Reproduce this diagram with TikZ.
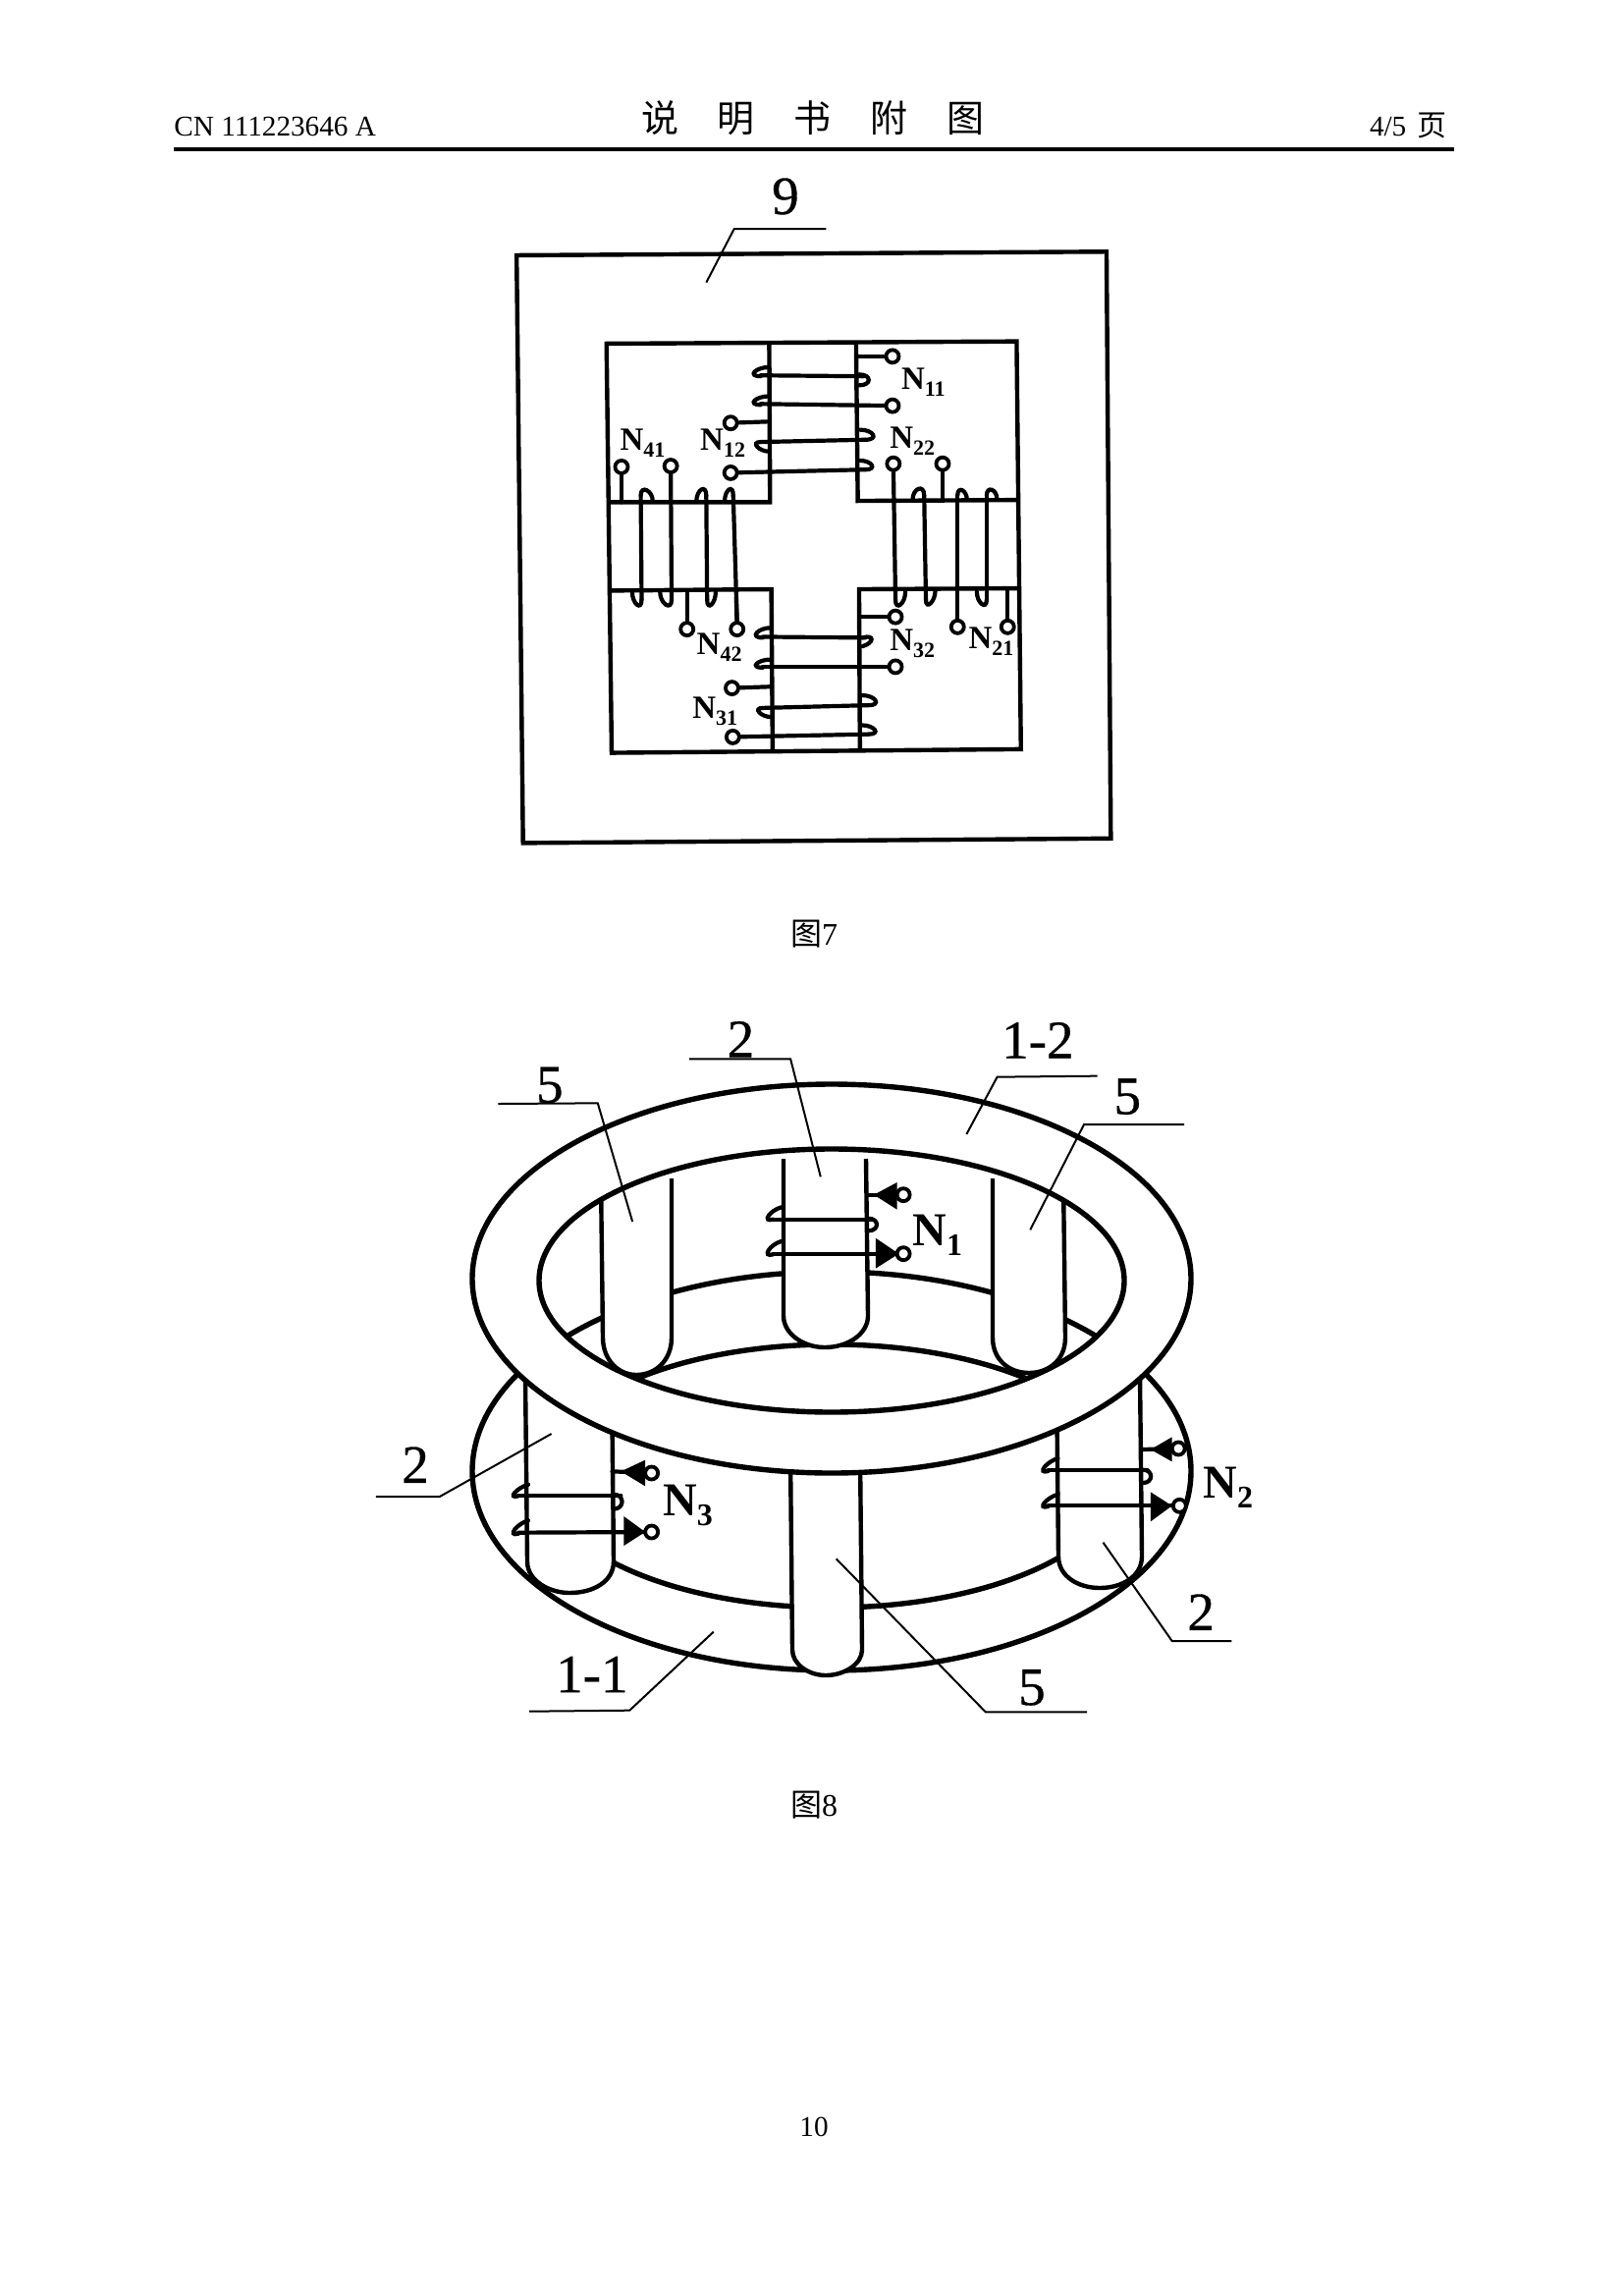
\documentclass[tikz,border=0pt]{standalone}
\usepackage{fontspec}
\usetikzlibrary{calc}
\setmainfont{Liberation Serif}
\newfontfamily\cjk{Noto Sans CJK SC}
\newfontfamily\semi[FakeBold=0.6]{Liberation Serif}
\tikzset{
  box/.style={line width=2.2pt,line join=miter},
  wire/.style={line width=2.1pt,line cap=round},
  lead/.style={line width=1pt},
  post/.style={line width=2.2pt,fill=white},
  ringline/.style={line width=2.7pt},
  term/.style={circle,draw,fill=white,line width=1.9pt,minimum size=6.5pt,inner sep=0pt},
  numlab/.style={font=\semi\fontsize{27.5pt}{27.5pt}\selectfont,inner sep=0pt},
  nsmall/.style={font=\fontsize{16.5pt}{16.5pt}\selectfont\bfseries,inner sep=0pt,anchor=base west},
  nbig/.style={font=\fontsize{24pt}{24pt}\selectfont\bfseries,inner sep=0pt,anchor=base west},
  head/.style={font=\fontsize{14.6pt}{15pt}\selectfont,inner sep=0pt},
  capt/.style={font=\fontsize{16pt}{16pt}\selectfont,inner sep=0pt},
}
\newcommand\hk[3]{\draw[wire] (#1) .. controls ($(#1)+(#3)$) and ($(#2)+(#3)$) .. (#2);}
\newcommand\subs[1]{\raisebox{-3.5pt}{\fontsize{11pt}{11pt}\selectfont #1}}
\newcommand\subb[1]{\raisebox{-5pt}{\fontsize{16pt}{16pt}\selectfont #1}}
\begin{document}
\begin{tikzpicture}[x=0.5pt,y=-0.5pt]
\fill[white] (0,0) rectangle (1653,2338);
\useasboundingbox (0,0) rectangle (1653,2338);
% header
\node[head,anchor=base west] (cn) at (177,139) {CN 111223646 A};
\node[head,anchor=base east] (pg) at (1474,139) {4/5\hspace{2pt} {\cjk\fontsize{15pt}{15pt}\selectfont 页}};
\node[inner sep=0pt,font=\cjk\fontsize{19pt}{19pt}\selectfont] (title) at (828,120) {说\hspace{20pt}明\hspace{20pt}书\hspace{20pt}附\hspace{20pt}图};
\draw[line width=1.6pt] (177,152) -- (1481,152);
\node[capt] (cap7) at (829,951) {{\cjk 图}7};
\node[capt] (cap8) at (829,1838) {{\cjk 图}8};
\node[head] (pno) at (829,2166) {10};

% ---------- figure 7
\begin{scope}[shift={(500,170)},x=0.218pt,y=-0.2307pt]
\draw[box] (60,195) -- (1438,187) -- (1448,1482) -- (75,1492) -- cycle;
\draw[box] (270,390) -- (1228,385) -- (1238,1285) -- (282,1293) -- cycle;
\draw[box] (650,390) -- (652,740) -- (275,740);
\draw[box] (853,388) -- (857,737) -- (1230,735);
\draw[box] (282,935) -- (655,932) -- (658,1290);
\draw[box] (1232,930) -- (860,932) -- (862,1285);
\node[numlab] (n9) at (688,65) {9};
\draw[lead] (503,255) -- (568,137) -- (783,137);
% top arm
\node[term] (a1) at (938,418) {};
\draw[wire] (853,418) -- (a1);
\draw[wire] (630,460) -- (870,462);
\hk{650,442}{630,462}{-32,0}
\hk{860,458}{860,482}{30,0}
\node[term] (a2) at (938,527) {};
\draw[wire] (630,523) -- (a2);
\hk{650,506}{630,525}{-32,0}
\node[term] (a3) at (560,565) {};
\draw[wire] (a3) -- (650,562);
\draw[wire] (630,607) -- (875,602);
\hk{630,607}{650,628}{-24,0}
\hk{862,580}{875,602}{32,0}
\node[term] (a4) at (560,675) {};
\draw[wire] (a4) -- (875,668);
\hk{862,648}{875,668}{28,0}
% left arm
\node[term] (b1) at (305,662) {};
\draw[wire] (b1) -- (305,740);
\draw[wire] (350,725) -- (352,955);
\hk{350,725}{378,738}{0,-24}
\hk{330,938}{352,955}{0,26}
\node[term] (b2) at (420,660) {};
\draw[wire] (b2) -- (422,955);
\hk{395,938}{422,955}{0,26}
\draw[wire] (503,725) -- (505,955);
\hk{480,738}{503,725}{0,-26}
\hk{505,955}{525,938}{0,26}
\draw[wire] (566,725) -- (575,1005);
\hk{546,738}{566,725}{0,-26}
\node[term] (b3) at (575,1020) {};
\draw[wire] (b3) -- (573,950);
\node[term] (b4) at (458,1020) {};
\draw[wire] (458,935) -- (b4);
% right arm
\node[term] (c1) at (940,655) {};
\draw[wire] (c1) -- (945,955);
\hk{945,955}{968,938}{0,26}
\draw[wire] (1012,725) -- (1016,955);
\hk{985,735}{1012,725}{0,-26}
\hk{1016,955}{1038,935}{0,24}
\node[term] (c2) at (1055,655) {};
\draw[wire] (c2) -- (1055,735);
\node[term] (c3) at (1090,1015) {};
\draw[wire] (1090,725) -- (c3);
\hk{1090,725}{1112,735}{0,-22}
\draw[wire] (1158,725) -- (1158,955);
\hk{1158,725}{1182,733}{0,-22}
\hk{1135,938}{1158,955}{0,24}
\node[term] (c4) at (1207,1015) {};
\draw[wire] (1207,932) -- (c4);
% bottom arm
\node[term] (d1) at (945,993) {};
\draw[wire] (862,993) -- (d1);
\draw[wire] (635,1037) -- (875,1039);
\hk{655,1017}{635,1039}{-32,0}
\hk{868,1039}{868,1058}{28,-8}
\node[term] (d2) at (945,1103) {};
\draw[wire] (635,1103) -- (d2);
\hk{655,1087}{635,1105}{-32,0}
\node[term] (d3) at (563,1150) {};
\draw[wire] (d3) -- (655,1147);
\draw[wire] (635,1194) -- (882,1188);
\hk{635,1194}{655,1214}{-24,0}
\hk{866,1166}{882,1188}{32,0}
\node[term] (d4) at (565,1258) {};
\draw[wire] (d4) -- (882,1252);
\hk{866,1232}{882,1252}{30,0}
% labels
\node[nsmall] (l11) at (958,490) {N\subs{11}};
\node[nsmall] (l41) at (301,625) {N\subs{41}};
\node[nsmall] (l12) at (488,625) {N\subs{12}};
\node[nsmall] (l22) at (931,620) {N\subs{22}};
\node[nsmall] (l42) at (480,1075) {N\subs{42}};
\node[nsmall] (l32) at (931,1067) {N\subs{32}};
\node[nsmall] (l21) at (1115,1063) {N\subs{21}};
\node[nsmall] (l31) at (470,1217) {N\subs{31}};
\end{scope}

% ---------- figure 8
% lower ring
\draw[ringline,fill=white] (847,1498) ellipse [x radius=366,y radius=203];
\draw[ringline] (847,1503) ellipse [x radius=295,y radius=134];
% posts seen through the hole
\draw[post] (612,1200) -- (614,1362) .. controls (614,1385) and (630,1400) .. (648,1400) .. controls (668,1400) and (684,1385) .. (684,1362) -- (684,1200);
\draw[post] (1011,1200) -- (1011,1362) .. controls (1011,1385) and (1028,1398) .. (1048,1398) .. controls (1068,1398) and (1085,1385) .. (1085,1362) -- (1083,1200);
\draw[post] (798,1180) -- (798,1340) .. controls (798,1358) and (818,1372) .. (840,1372) .. controls (864,1372) and (884,1358) .. (884,1340) -- (882,1180);
% front posts
\draw[post] (535,1400) -- (537,1590) .. controls (537,1610) and (560,1622) .. (580,1622) .. controls (605,1622) and (625,1610) .. (625,1590) -- (623,1400);
\draw[post] (1076,1400) -- (1078,1585) .. controls (1078,1605) and (1098,1617) .. (1120,1617) .. controls (1143,1617) and (1163,1605) .. (1163,1585) -- (1161,1400);
\draw[post] (805,1480) -- (807,1680) .. controls (807,1695) and (824,1706) .. (841,1706) .. controls (859,1706) and (878,1695) .. (878,1680) -- (876,1480);
% upper ring
\fill[white,even odd rule] (847,1302) ellipse [x radius=366,y radius=198] (847,1304) ellipse [x radius=298,y radius=134];
\draw[ringline] (847,1302) ellipse [x radius=366,y radius=198];
\draw[ringline] (847,1304) ellipse [x radius=298,y radius=134];

% upper zoom frame
\begin{scope}[shift={(370,1020)},x=0.2948pt,y=-0.16667pt]
\node[numlab] (m5a) at (322,255) {5};
\draw[lead] (233,312) -- (405,310) -- (465,672);
\node[numlab] (m2a) at (652,115) {2};
\draw[lead] (563,175) -- (738,175) -- (790,535);
\node[numlab] (m12) at (1165,118) {1-2};
\draw[lead] (1268,227) -- (1095,230) -- (1042,405);
\node[numlab] (m5b) at (1320,290) {5};
\draw[lead] (1418,375) -- (1245,375) -- (1152,697);
% N1 winding
\node[term] (e1) at (933,590) {};
\draw[wire] (870,590) -- (e1);
\fill (882,590) -- (922,552) -- (922,635) -- cycle;
\draw[wire] (708,665) -- (880,665);
\hk{722,628}{708,665}{-20,10}
\hk{872,662}{872,700}{20,0}
\node[term] (e2) at (933,770) {};
\draw[wire] (708,770) -- (e2);
\hk{722,732}{708,772}{-20,10}
\fill (925,770) -- (885,722) -- (885,815) -- cycle;
\node[nbig] (n1) at (948,745) {N\subb{1}};
\end{scope}

% lower zoom frame
\begin{scope}[shift={(370,1380)},x=0.2948pt,y=-0.16667pt]
\node[numlab] (m2b) at (90,335) {2};
\draw[lead] (22,432) -- (132,432) -- (325,240);
\node[numlab] (m11) at (395,975) {1-1};
\draw[lead] (287,1088) -- (460,1085) -- (605,845);
\node[numlab] (m5c) at (1155,1015) {5};
\draw[lead] (1250,1090) -- (1075,1090) -- (817,622);
\node[numlab] (m2c) at (1447,785) {2};
\draw[lead] (1500,873) -- (1397,873) -- (1278,572);
% N3 winding
\node[term] (f1) at (498,360) {};
\draw[wire] (430,355) -- (f1);
\fill (445,355) -- (487,320) -- (487,400) -- cycle;
\draw[wire] (268,428) -- (445,428);
\hk{285,395}{268,430}{-20,10}
\hk{432,425}{432,470}{20,0}
\node[term] (f2) at (498,540) {};
\draw[wire] (268,542) -- (f2);
\hk{285,505}{268,545}{-20,10}
\fill (487,540) -- (450,492) -- (450,582) -- cycle;
\node[nbig] (n3) at (517,490) {N\subb{3}};
% N2 winding
\node[term] (g1) at (1408,285) {};
\draw[wire] (1345,288) -- (g1);
\fill (1360,288) -- (1397,250) -- (1397,325) -- cycle;
\draw[wire] (1183,352) -- (1355,352);
\hk{1200,315}{1183,354}{-20,10}
\hk{1347,350}{1347,390}{18,0}
\node[term] (g2) at (1410,460) {};
\draw[wire] (1183,460) -- (g2);
\hk{1200,425}{1183,462}{-20,10}
\fill (1397,460) -- (1360,418) -- (1360,508) -- cycle;
\node[nbig] (n2) at (1450,435) {N\subb{2}};
\end{scope}
\end{tikzpicture}
\end{document}
